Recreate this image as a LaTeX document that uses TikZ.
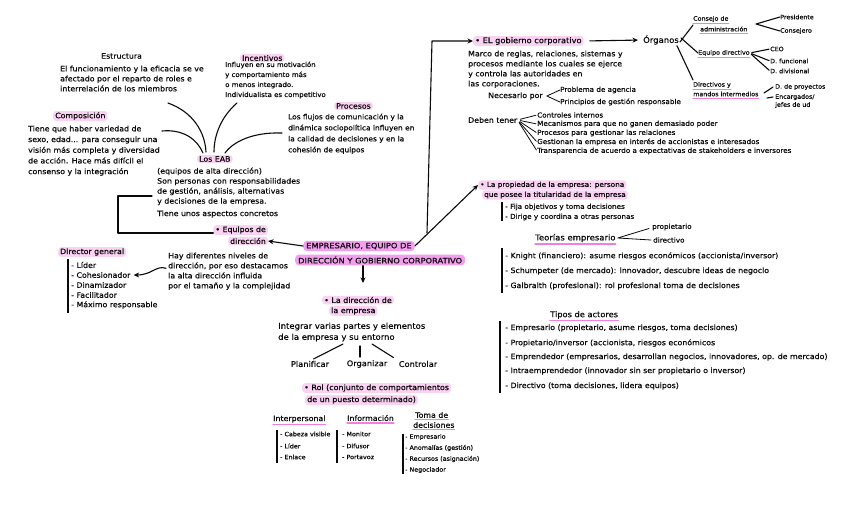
\documentclass[tikz,border=0pt]{standalone}
\usepackage{fontspec}
\setmainfont{DejaVu Sans}[FakeStretch=1.06,FakeBold=0.6]
\newfontfamily\widefont[FakeStretch=1.12,FakeBold=0.6]{DejaVu Sans}
\usetikzlibrary{arrows.meta}
\definecolor{hl}{HTML}{FAD3F3}
\definecolor{hlstrong}{HTML}{F2A0EE}
\definecolor{ulpink}{HTML}{F07FE4}
\definecolor{ink}{HTML}{0A0A0A}
\begin{document}
\begin{tikzpicture}[x=1pt,y=-1pt,
  tx/.style={anchor=west,inner sep=0pt,text=ink,font=\fontsize{7.4}{10}\selectfont},
  txs/.style={tx,font=\fontsize{6.8}{9}\selectfont},
  txx/.style={tx,font=\fontsize{6}{8}\selectfont},
  para/.style={tx,anchor=north west,align=left},
  hlbox/.style={fill=hl,rounded corners=3pt,inner xsep=2pt,inner ysep=1.2pt},
  strong/.style={tx,fill=hlstrong,rounded corners=4pt,inner xsep=3pt,inner ysep=2pt,font=\widefont\fontsize{7.4}{9}\selectfont},
  ln/.style={draw=ink,line width=1.1pt,line cap=round,line join=round},
  lnt/.style={ln,line width=0.8pt},
  arr/.style={ln,-{Stealth[length=5.5pt,width=5pt]}},
  ul/.style={draw=ulpink,line width=1.1pt,line cap=round},
  bar/.style={draw=ink,line width=1.1pt},
]
\useasboundingbox[fill=white] (0,0) rectangle (848,530);

% ---------- top left: EAB ----------
\node[tx] (estr) at (101,56) {Estructura};
\node[para] (estrP) at (60,65.5) {El funcionamiento y la eficacia se ve\\afectado por el reparto de roles e\\interrelación de los miembros};
\node[tx,hlbox] (inc) at (240,58) {Incentivos};
\node[para,font=\fontsize{6.6}{10}\selectfont] (incP) at (225,61.5) {Influyen en su motivación\\y comportamiento más\\o menos integrado.\\Individualista es competitivo};
\node[tx,hlbox] (comp) at (53,116) {Composición};
\node[para,font=\fontsize{7.4}{10.7}\selectfont] (compP) at (28,125.5) {Tiene que haber variedad de\\sexo, edad... para conseguir una\\visión más completa y diversidad\\de acción. Hace más difícil el\\consenso y la integración};
\node[tx,hlbox] (proc) at (334,106) {Procesos};
\node[para,font=\fontsize{7}{11}\selectfont] (procP) at (288,113.5) {Los flujos de comunicación y la\\dinámica sociopolítica influyen en\\la calidad de decisiones y en la\\cohesión de equipos};
\node[tx,hlbox] (eab) at (197,159) {Los EAB};
\node[para] (eabP) at (157,167.5) {(equipos de alta dirección)\\Son personas con responsabilidades\\de gestión, análisis, alternativas\\y decisiones de la empresa.};
\node[tx] (eabQ) at (157,214) {Tiene unos aspectos concretos};

\coordinate (s1) at (168,103); \coordinate (e1) at (206,152);
\coordinate (s2) at (162,131); \coordinate (e2) at (203,153);
\coordinate (s3) at (237,103); \coordinate (e3) at (214,152);
\coordinate (s4) at (282,133); \coordinate (e4) at (225,153);
\draw[ln] (s1) .. controls (193,112) and (205,132) .. (e1);
\draw[ln] (s2) .. controls (183,129) and (197,139) .. (e2);
\draw[ln] (s3) .. controls (222,116) and (214,134) .. (e3);
\draw[ln] (s4) .. controls (252,132) and (233,142) .. (e4);

% ---------- Equipos de dirección ----------
\node[tx,hlbox,anchor=east] (eq1) at (268,230) {• Equipos de};
\node[tx,hlbox,anchor=east] (eq2) at (268,241) {dirección};
\coordinate (bk) at (152,196);
\draw[ln] (bk) -- (118,196) -- (118,233) -- (eq1.south west |- 0,233) -- ++(-20,0);

\node[tx,hlbox] (dg) at (58,252) {Director general};
\draw[bar] (68,259) -- (68,313);
\node[tx] (dg1) at (71,265) {- Líder};
\node[tx] (dg2) at (71,275) {- Cohesionador};
\node[tx] (dg3) at (71,285) {- Dinamizador};
\node[tx] (dg4) at (71,295) {- Facilitador};
\node[tx] (dg5) at (71,305) {- Máximo responsable};
\node[para] (hay) at (168,252.5) {Hay diferentes niveles de\\dirección, por eso destacamos\\la alta dirección influida\\por el tamaño y la complejidad};
\draw[arr] ([xshift=-2pt,yshift=3pt]hay.west) .. controls (156,265) and (152,275) .. ([xshift=3pt]dg2.east);

% ---------- central ----------
\node[strong] (cen1) at (303,246) {EMPRESARIO, EQUIPO DE};
\node[strong] (cen2) at (295,260) {DIRECCIÓN Y GOBIERNO CORPORATIVO};
\draw[arr] (cen1.west) -- (eq2.east);

% ---------- gobierno corporativo ----------
\node[tx,hlbox,font=\fontsize{7.8}{10}\selectfont] (gob) at (473,41) {• EL gobierno corporativo};
\node[tx,font=\fontsize{8}{10}\selectfont] (org) at (643,40) {Órganos};
\coordinate (gs) at (427,233);
\draw[arr] (gs) -- (432,41) -- (gob.west);
\draw[arr,shorten <=6pt,shorten >=5pt] (gob.east) -- (org.west);
\node[para] (marco) at (468,50.5) {Marco de reglas, relaciones, sistemas y\\procesos mediante los cuales se ejerce\\y controla las autoridades en\\las corporaciones.};
\node[tx] (nec) at (488,96) {Necesario por};
\node[txs] (agen) at (560,90) {Problema de agencia};
\node[txs] (princ) at (560,102) {Principios de gestión responsable};
\draw[lnt] (agen.west) -- ([xshift=4pt]nec.east) -- (princ.west);
\node[tx] (deb) at (468,120) {Deben tener};
\node[txs] (d1) at (537,115) {Controles internos};
\node[txs] (d2) at (537,124) {Mecanismos para que no ganen demasiado poder};
\node[txs] (d3) at (537,133) {Procesos para gestionar las relaciones};
\node[txs] (d4) at (537,142) {Gestionan la empresa en interés de accionistas e interesados};
\node[txs] (d5) at (537,151) {Transparencia de acuerdo a expectativas de stakeholders e inversores};
\foreach \d in {d1,d2,d3,d4,d5}{\draw[lnt,shorten <=3pt,shorten >=1pt] (deb.east) -- (\d.west);}

% ---------- Órganos ----------
\node[txx] (cons1) at (693,19) {Consejo de};
\node[txx] (cons2) at (700,29) {administración};
\node[txx] (eqd) at (698,53) {Equipo directivo};
\node[txx] (dm1) at (693,85) {Directivos y};
\node[txx] (dm2) at (693,94) {mandos intermedios};
\foreach \n in {cons1,cons2,eqd,dm1,dm2}{\draw[ul] ([yshift=-1.6pt]\n.south west) -- ([yshift=-1.6pt]\n.south east);}
\draw[ln] ([shift={(1pt,-2pt)}]org.east) -- ([yshift=-3pt]cons1.south west);
\draw[ln] ([shift={(2pt,2pt)}]org.east) -- (eqd.west);
\draw[ln] ([shift={(-2pt,-1pt)}]org.south east) -- ([yshift=2pt]dm1.north west);
\node[txx] (pres) at (780,17) {Presidente};
\node[txx] (cjo) at (780,31) {Consejero};
\coordinate (cj) at (756,24);
\draw[ln] (pres.west) -- (cj) -- (cjo.west);
\node[txx] (ceo) at (770,49) {CEO};
\node[txx] (dfun) at (770,61) {D. funcional};
\node[txx] (ddiv) at (770,71) {D. divisional};
\foreach \n in {ceo,dfun,ddiv}{\draw[ln,shorten <=2pt,shorten >=1pt] (eqd.east) -- (\n.west);}
\node[txx] (dpro) at (775,87) {D. de proyectos};
\node[txx,align=left,anchor=north west] (enc) at (775,94) {Encargados/\\jefes de ud};
\coordinate (dmx) at (764,93);
\draw[ln] (dmx) -- ([xshift=-2pt]dpro.west);
\draw[ln] (767,98) -- ([xshift=-2pt,yshift=1pt]enc.north west |- 0,98);

% ---------- propiedad ----------
\node[tx,hlbox,font=\fontsize{6.9}{9}\selectfont] (prop1) at (478,185) {• La propiedad de la empresa: persona};
\node[tx,hlbox,font=\fontsize{6.9}{9}\selectfont] (prop2) at (482,195) {que posee la titularidad de la empresa};
\draw[arr] (cen1.east) -- (prop1.west);
\draw[bar] (502,202) -- (502,221);
\node[txs] (f1) at (505,207) {- Fija objetivos y toma decisiones};
\node[txs] (f2) at (505,217) {- Dirige y coordina a otras personas};
\node[tx,font=\fontsize{8}{10}\selectfont] (teo) at (535,238) {Teorías empresario};
\draw[ul] ([yshift=-1.8pt]teo.south west) -- ([yshift=-1.8pt]teo.south east);
\node[txs] (tprop) at (652,227) {propietario};
\node[txs] (tdir) at (653,240) {directivo};
\draw[lnt] ([shift={(-3pt,2pt)}]tprop.south west) -- ([xshift=2pt]teo.east) -- ([xshift=-2pt]tdir.west);
\draw[bar] (502,248) -- (502,293);
\node[tx] (k1) at (505,256) {- Knight (financiero): asume riesgos económicos (accionista/inversor)};
\node[tx] (k2) at (505,271) {- Schumpeter (de mercado): innovador, descubre ideas de negocio};
\node[tx] (k3) at (505,286) {- Galbraith (profesional): rol profesional toma de decisiones};

% ---------- Tipos de actores ----------
\node[tx,font=\fontsize{7.8}{10}\selectfont] (tipos) at (550,315) {Tipos de actores};
\draw[ul] ([yshift=-1.8pt]tipos.south west) -- ([yshift=-1.8pt]tipos.south east);
\draw[bar] (500,321) -- (500,393);
\node[tx] (a1) at (505,328) {- Empresario (propietario, asume riesgos, toma decisiones)};
\node[tx] (a2) at (505,343) {- Propietario/inversor (accionista, riesgos económicos};
\node[tx] (a3) at (505,357) {- Emprendedor (empresarios, desarrollan negocios, innovadores, op. de mercado)};
\node[tx] (a4) at (505,371) {- Intraemprendedor (innovador sin ser propietario o inversor)};
\node[tx] (a5) at (505,386) {- Directivo (toma decisiones, lidera equipos)};

% ---------- dirección de la empresa ----------
\node[tx,hlbox,font=\fontsize{7.5}{10}\selectfont] (dir1) at (322,300) {• La dirección de};
\node[tx,hlbox,font=\fontsize{7.5}{10}\selectfont] (dir2) at (329,311) {la empresa};
\coordinate (dtip) at (363,283);
\draw[arr] (cen2.south -| dtip) -- (dtip);
\node[para,font=\fontsize{8}{11}\selectfont] (integ) at (278,322.5) {Integrar varias partes y elementos\\de la empresa y su entorno};
\node[tx,anchor=center,font=\fontsize{7.8}{10}\selectfont] (plan) at (310,364) {Planificar};
\node[tx,anchor=center,font=\fontsize{7.8}{10}\selectfont] (orga) at (367,364) {Organizar};
\node[tx,anchor=center,font=\fontsize{7.8}{10}\selectfont] (contr) at (418,364) {Controlar};
\coordinate (ia) at (343,344); \coordinate (ib) at (360,346); \coordinate (ic) at (372,344);
\draw[ln,shorten >=4pt] (ia) -- (plan.north);
\draw[ln] (ib) -- (360,357);
\draw[ln,shorten >=6pt] (ic) -- (contr.north west);

% ---------- Rol ----------
\node[tx,hlbox,font=\fontsize{7.5}{10}\selectfont] (rol1) at (302,388) {• Rol (conjunto de comportamientos};
\node[tx,hlbox,font=\fontsize{7.5}{10}\selectfont] (rol2) at (305,400) {de un puesto determinado)};
\node[tx] (ip) at (273,419) {Interpersonal};
\node[tx] (inf) at (347,418) {Información};
\node[tx] (tm1) at (415,415) {Toma de};
\node[tx] (tm2) at (413,425) {decisiones};
\foreach \n in {ip,inf,tm1,tm2}{\draw[ul] ([yshift=-1.8pt]\n.south west) -- ([yshift=-1.8pt]\n.south east);}
\draw[bar] (277,430) -- (277,463);
\node[txx] (r1) at (280,434) {- Cabeza visible};
\node[txx] (r2) at (280,446) {- Líder};
\node[txx] (r3) at (280,457) {- Enlace};
\draw[bar] (337,430) -- (337,463);
\node[txx] (r4) at (342,434) {- Monitor};
\node[txx] (r5) at (342,446) {- Difusor};
\node[txx] (r6) at (342,457) {- Portavoz};
\draw[bar] (403,434) -- (403,474);
\node[txx] (r7) at (405,437) {- Empresario};
\node[txx] (r8) at (405,448) {- Anomalías (gestión)};
\node[txx] (r9) at (405,459) {- Recursos (asignación)};
\node[txx] (r10) at (405,470) {- Negociador};
\end{tikzpicture}
\end{document}
